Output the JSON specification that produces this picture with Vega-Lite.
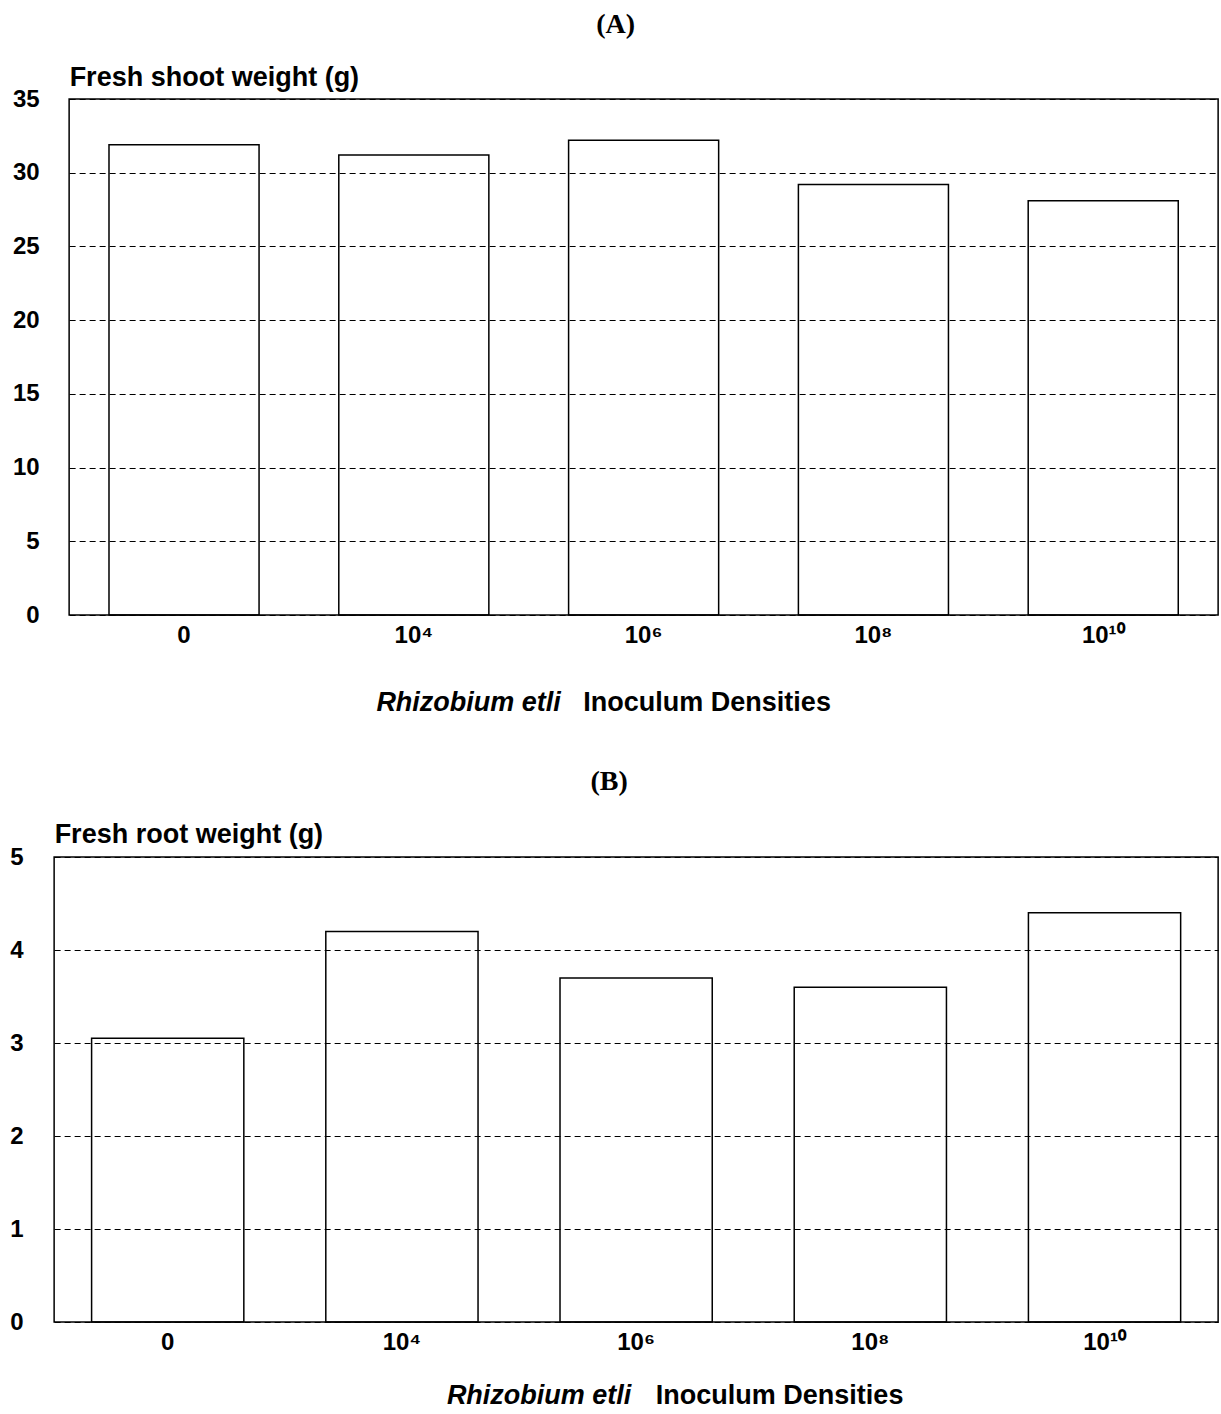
{
  "$schema": "https://vega.github.io/schema/vega-lite/v6.json",
  "background": "white",
  "padding": {"left": 9, "top": 10, "right": 0, "bottom": 0},
  "config": {
    "view": {"stroke": "black", "strokeWidth": 1.5},
    "font": "Liberation Sans",
    "axis": {"labelColor": "black", "titleColor": "black"}
  },
  "spacing": 51,
  "center": true,
  "vconcat": [
    {
      "title": {"text": "(A)", "font": "Liberation Serif", "fontSize": 28, "fontWeight": "bold", "color": "black", "anchor": "middle", "dx": -28, "offset": 24},
      "width": 1149,
      "height": 516,
      "data": {"values": [
        {"density": "0", "weight": 31.9},
        {"density": "10⁴", "weight": 31.2},
        {"density": "10⁶", "weight": 32.2},
        {"density": "10⁸", "weight": 29.2},
        {"density": "10¹⁰", "weight": 28.1}
      ]},
      "layer": [
        {
          "mark": {"type": "bar", "fill": "white", "fillOpacity": 0, "stroke": "black", "strokeWidth": 1.5},
          "encoding": {
            "x": {"field": "density", "type": "nominal", "sort": null,
              "scale": {"paddingInner": 0.347, "paddingOuter": 0.1735},
              "axis": {"orient": "bottom", "labelAngle": 0, "labelFontSize": 24, "labelFontWeight": "bold", "labelPadding": 8, "ticks": false, "domain": false,
                "title": "Inoculum Densities", "titleFontSize": 27, "titleFontWeight": "bold", "titleX": 637.5, "titleY": 87, "titleBaseline": "middle", "titleAlign": "center"}},
            "y": {"field": "weight", "type": "quantitative", "scale": {"domain": [0, 35]},
              "axis": {"values": [0, 5, 10, 15, 20, 25, 30, 35], "grid": true, "gridDash": [6, 4], "gridColor": "black", "gridWidth": 1, "gridOpacity": 1,
                "ticks": false, "domain": false, "labelFontSize": 24, "labelFontWeight": "bold", "labelPadding": 30,
                "title": "Fresh shoot weight (g)", "titleAngle": 0, "titleAlign": "left", "titleX": 0, "titleY": -22, "titleBaseline": "middle", "titleFontSize": 27, "titleFontWeight": "bold"}}
          }
        },
        {
          "mark": {"type": "bar", "opacity": 0},
          "encoding": {
            "x": {"field": "density", "type": "nominal", "sort": null,
              "axis": {"orient": "top", "labels": false, "ticks": false, "domain": false, "grid": false,
                "title": "Rhizobium etli", "titleFontSize": 27, "titleFontWeight": "bold", "titleFontStyle": "italic", "titleX": 399, "titleY": 603, "titleBaseline": "middle", "titleAlign": "center"}}
          }
        }
      ],
      "resolve": {"axis": {"x": "independent"}}
    },
    {
      "title": {"text": "(B)", "font": "Liberation Serif", "fontSize": 28, "fontWeight": "bold", "color": "black", "anchor": "middle", "dx": -27, "offset": 24},
      "width": 1164,
      "height": 465,
      "data": {"values": [
        {"density": "0", "weight": 3.05},
        {"density": "10⁴", "weight": 4.2},
        {"density": "10⁶", "weight": 3.7},
        {"density": "10⁸", "weight": 3.6},
        {"density": "10¹⁰", "weight": 4.4}
      ]},
      "layer": [
        {
          "mark": {"type": "bar", "fill": "white", "fillOpacity": 0, "stroke": "black", "strokeWidth": 1.5},
          "encoding": {
            "x": {"field": "density", "type": "nominal", "sort": null,
              "scale": {"paddingInner": 0.35, "paddingOuter": 0.16},
              "axis": {"orient": "bottom", "labelAngle": 0, "labelFontSize": 24, "labelFontWeight": "bold", "labelPadding": 8, "ticks": false, "domain": false,
                "title": "Inoculum Densities", "titleFontSize": 27, "titleFontWeight": "bold", "titleX": 725, "titleY": 73, "titleBaseline": "middle", "titleAlign": "center"}},
            "y": {"field": "weight", "type": "quantitative", "scale": {"domain": [0, 5]},
              "axis": {"orient": "left", "values": [0, 1, 2, 3, 4, 5], "grid": true, "gridDash": [6, 4], "gridColor": "black", "gridWidth": 1, "gridOpacity": 1,
                "ticks": false, "domain": false, "labelFontSize": 24, "labelFontWeight": "bold", "labelPadding": 31,
                "title": "Fresh root weight (g)", "titleAngle": 0, "titleAlign": "left", "titleX": 0, "titleY": -23, "titleBaseline": "middle", "titleFontSize": 27, "titleFontWeight": "bold"}}
          }
        },
        {
          "mark": {"type": "bar", "opacity": 0},
          "encoding": {
            "x": {"field": "density", "type": "nominal", "sort": null,
              "axis": {"orient": "top", "labels": false, "ticks": false, "domain": false, "grid": false,
                "title": "Rhizobium etli", "titleFontSize": 27, "titleFontWeight": "bold", "titleFontStyle": "italic", "titleX": 484.5, "titleY": 538, "titleBaseline": "middle", "titleAlign": "center"}},
            "y": {"field": "weight", "type": "quantitative",
              "axis": {"orient": "right", "labels": false, "ticks": true, "tickSize": 15, "tickOpacity": 0, "domain": false, "grid": false, "title": null, "values": [0, 5]}}
          }
        }
      ],
      "resolve": {"axis": {"x": "independent", "y": "independent"}}
    }
  ]
}
